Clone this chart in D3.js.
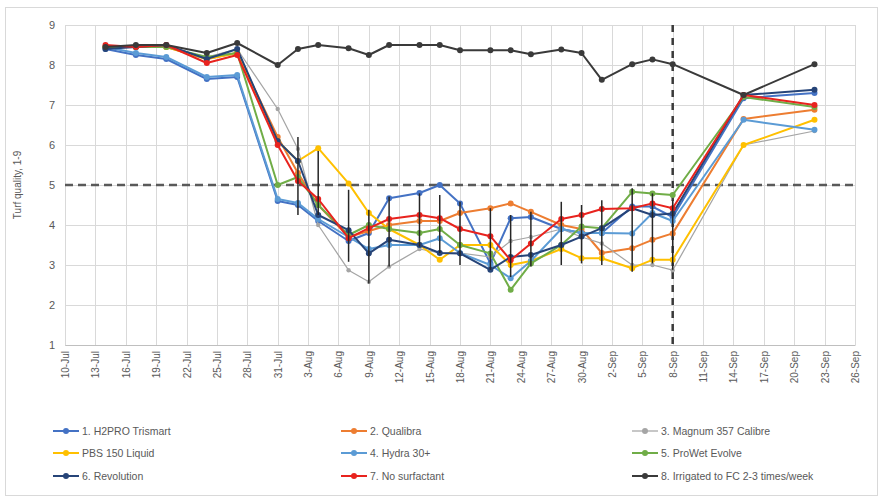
<!DOCTYPE html>
<html><head><meta charset="utf-8">
<script src="https://cdn.jsdelivr.net/npm/d3@7"></script>
<style>
body{margin:0;background:#fff;}
svg{display:block;font-family:"Liberation Sans",Arial,sans-serif;}
</style></head>
<body><svg id="c" width="883" height="500"></svg>
<script>
// ---------- data ----------
const year = "2019";
const dates = ["14-Jul","17-Jul","20-Jul","24-Jul","27-Jul","31-Jul","2-Aug","4-Aug","7-Aug","9-Aug","11-Aug","14-Aug","16-Aug","18-Aug","21-Aug","23-Aug","25-Aug","28-Aug","30-Aug","1-Sep","4-Sep","6-Sep","8-Sep","15-Sep","22-Sep"];
const tickLabels = ["10-Jul","13-Jul","16-Jul","19-Jul","22-Jul","25-Jul","28-Jul","31-Jul","3-Aug","6-Aug","9-Aug","12-Aug","15-Aug","18-Aug","21-Aug","24-Aug","27-Aug","30-Aug","2-Sep","5-Sep","8-Sep","11-Sep","14-Sep","17-Sep","20-Sep","23-Sep","26-Sep"];
const yTicks = [1,2,3,4,5,6,7,8,9];
const seriesNames = ["1. H2PRO Trismart","2. Qualibra","3. Magnum 357 Calibre","PBS 150 Liquid","4. Hydra 30+","5. ProWet Evolve","6. Revolution","7. No surfactant","8. Irrigated to FC 2-3 times/week"];
const h2pro    = [8.40,8.25,8.15,7.65,7.70,4.60,4.50,4.10,3.60,3.80,4.67,4.80,5.00,4.54,3.04,4.17,4.20,3.90,3.80,3.80,4.46,4.46,4.20,7.17,7.30];
const qualibra = [8.45,8.45,8.45,8.15,8.30,6.20,5.30,4.50,3.70,3.85,4.00,4.10,4.10,4.30,4.42,4.54,4.33,4.00,3.90,3.30,3.42,3.63,3.79,6.65,6.88];
const magnum   = [8.45,8.45,8.45,8.20,8.40,6.90,5.90,4.00,2.87,2.58,2.96,3.40,3.30,3.30,3.20,3.60,3.70,3.90,3.70,3.54,3.00,3.00,2.87,6.00,6.35];
const pbs      = [8.45,8.45,8.45,8.15,8.30,6.10,5.60,5.92,5.04,4.30,3.90,3.50,3.13,3.50,3.50,3.00,3.10,3.40,3.17,3.17,2.92,3.13,3.13,6.00,6.63];
const hydra    = [8.45,8.30,8.20,7.70,7.75,4.65,4.55,4.15,3.70,3.40,3.50,3.50,3.67,3.30,3.00,2.67,3.10,3.90,3.80,3.80,3.79,4.30,4.10,6.63,6.38];
const prowet   = [8.45,8.45,8.45,8.20,8.30,5.00,5.20,4.50,3.75,4.00,3.90,3.80,3.90,3.50,3.29,2.38,3.04,3.50,3.96,3.92,4.83,4.79,4.75,7.20,6.95];
const revolution=[8.40,8.45,8.50,8.15,8.40,6.10,5.60,4.25,3.87,3.29,3.63,3.50,3.30,3.29,2.88,3.20,3.25,3.50,3.71,3.92,4.42,4.25,4.29,7.25,7.38];
const nosurf   = [8.50,8.45,8.50,8.05,8.25,6.00,5.10,4.65,3.67,3.92,4.15,4.25,4.17,3.90,3.72,3.12,3.54,4.15,4.25,4.40,4.42,4.54,4.42,7.25,7.00];
const irrigated= [8.45,8.50,8.50,8.30,8.55,8.00,8.40,8.50,8.42,8.25,8.50,8.50,8.50,8.37,8.37,8.37,8.27,8.39,8.30,7.63,8.02,8.14,8.02,7.25,8.02];
const errDates = ["2-Aug","4-Aug","7-Aug","9-Aug","11-Aug","14-Aug","16-Aug","18-Aug","21-Aug","23-Aug","25-Aug","28-Aug","30-Aug","1-Sep","4-Sep","6-Sep","8-Sep"];
const errLow  = [4.25,4.25,3.08,2.54,2.96,3.46,3.30,3.00,2.88,2.70,2.96,3.00,3.04,3.00,2.83,3.04,2.88];
const errHigh = [6.20,5.85,4.88,4.38,4.71,4.79,4.75,4.58,4.42,4.25,4.33,4.58,4.50,4.62,4.92,4.79,4.62];
const threshold = 5;
const markerDate = "8-Sep";

// ---------- styling ----------
const colors = ["#4472C4","#ED7D31","#A5A5A5","#FFC000","#5B9BD5","#70AD47","#264478","#E8231E","#3A3A3A"];
const seriesVals = [h2pro,qualibra,magnum,pbs,hydra,prowet,revolution,nosurf,irrigated];

const parse = d3.utcParse("%d-%b-%Y");
const P = s => parse(s + "-" + year);

const svg = d3.select("#c");
const L = 65, R = 855, T = 25, B = 345;
const x = d3.scaleUtc().domain([P(tickLabels[0]), P(tickLabels[tickLabels.length-1])]).range([L, R]);
const y = d3.scaleLinear().domain([1, 9]).range([B, T]);

// outer border
svg.append("rect").attr("x",5.5).attr("y",7.5).attr("width",872).attr("height",488)
  .attr("fill","#fff").attr("stroke","#d9d9d9").attr("stroke-width",1);

// gridlines
const g = svg.append("g");
g.selectAll(".hg").data(yTicks).join("line")
  .attr("x1",L).attr("x2",R).attr("y1",d=>Math.round(y(d))+0.5).attr("y2",d=>Math.round(y(d))+0.5)
  .attr("stroke","#d9d9d9").attr("stroke-width",1);
g.selectAll(".vg").data(tickLabels).join("line")
  .attr("y1",T).attr("y2",B).attr("x1",d=>Math.round(x(P(d)))+0.5).attr("x2",d=>Math.round(x(P(d)))+0.5)
  .attr("stroke","#d9d9d9").attr("stroke-width",1);

// y axis labels
const yAxis = d3.axisLeft(y).tickValues(yTicks).tickSize(0).tickPadding(10).tickFormat(d3.format("d"));
const ya = svg.append("g").attr("transform",`translate(${L},0)`).call(yAxis);
ya.select(".domain").remove();
ya.selectAll("text").attr("fill","#595959").style("font-size","11px");

// x axis labels
const xAxis = d3.axisBottom(x).tickValues(tickLabels.map(P)).tickSize(0).tickFormat((d,i)=>tickLabels[i]);
const xa = svg.append("g").attr("transform",`translate(0,${B})`).call(xAxis);
xa.select(".domain").attr("stroke","#bfbfbf");
xa.selectAll("text").attr("fill","#595959").style("font-size","10px")
  .attr("transform","rotate(-90)").attr("text-anchor","end").attr("x",-6).attr("y",0).attr("dy","0.35em");

// y title
svg.append("text").attr("transform",`translate(21,${(T+B)/2}) rotate(-90)`).attr("text-anchor","middle")
  .attr("fill","#595959").style("font-size","10px").text("Turf quality, 1-9");

// dashed reference lines
svg.append("line").attr("x1",L).attr("x2",R).attr("y1",y(threshold)).attr("y2",y(threshold))
  .attr("stroke","#595959").attr("stroke-width",2.5).attr("stroke-dasharray","8,5");
svg.append("line").attr("x1",x(P(markerDate))).attr("x2",x(P(markerDate))).attr("y1",T).attr("y2",B)
  .attr("stroke","#3a3a3a").attr("stroke-width",2.5).attr("stroke-dasharray","7,6");

// series
const line = d3.line().x((d,i)=>x(P(dates[i]))).y(d=>y(d));
seriesVals.forEach((vals,k)=>{
  const w = k===8 ? 2 : (k===2 ? 1.25 : 2);
  svg.append("path").datum(vals).attr("d",line).attr("fill","none")
    .attr("stroke",colors[k]).attr("stroke-width",w).attr("stroke-linejoin","round");
  svg.append("g").selectAll("circle").data(vals).join("circle")
    .attr("cx",(d,i)=>x(P(dates[i]))).attr("cy",d=>y(d)).attr("r",k===2?2.2:3)
    .attr("fill",colors[k]);
  if (k===7) {
    // error bars
    svg.append("g").selectAll("line").data(errDates).join("line")
      .attr("x1",d=>x(P(d))).attr("x2",d=>x(P(d)))
      .attr("y1",(d,i)=>y(errLow[i])).attr("y2",(d,i)=>y(errHigh[i]))
      .attr("stroke","#262626").attr("stroke-width",1.5);
  }
});

// legend
const legX = [53, 341, 632], legY = [431, 453, 476];
seriesNames.forEach((name,k)=>{
  const col = k%3, row = Math.floor(k/3);
  const lg = svg.append("g").attr("transform",`translate(${legX[col]},${legY[row]})`);
  lg.append("line").attr("x1",0).attr("x2",26).attr("y1",0).attr("y2",0)
    .attr("stroke",colors[k]).attr("stroke-width",k===2?1.25:2);
  lg.append("circle").attr("cx",13).attr("cy",0).attr("r",3).attr("fill",colors[k]);
  lg.append("text").attr("x",29).attr("y",0).attr("dy","0.35em").attr("fill","#595959")
    .style("font-size","10.5px").text(name);
});
</script></body></html>
